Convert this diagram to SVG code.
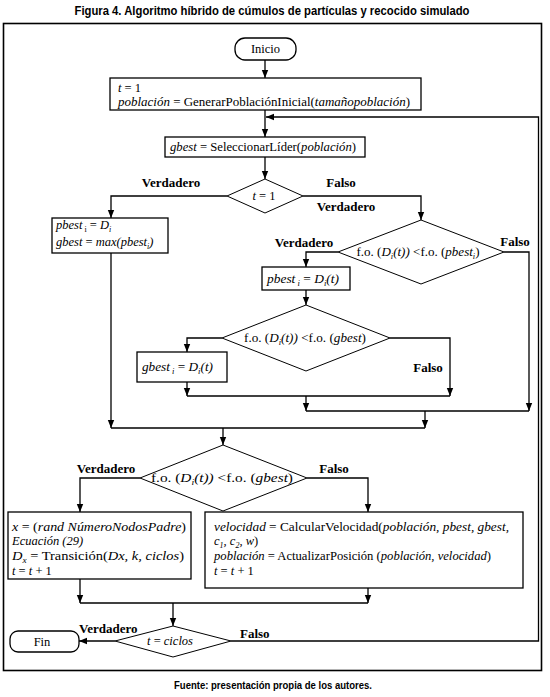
<svg xmlns="http://www.w3.org/2000/svg" width="550" height="697" viewBox="0 0 550 697">
<style>
.bg{fill:#fff}
.frame{fill:none;stroke:#000;stroke-width:1.6}
.box{fill:#fff;stroke:#000;stroke-width:1.3}
.dia{fill:#fff;stroke:#000;stroke-width:1}
.c{fill:none;stroke:#000;stroke-width:1.3}
.t{font-size:12.5px;fill:#000}
.i{font-style:italic}
.s{font-size:8px}
.lab{font-size:13px;font-weight:bold;fill:#000}
.cap{font-weight:bold;fill:#000}
</style>
<defs>
<marker id="ah" viewBox="0 0 10 10" refX="10" refY="5" markerWidth="8" markerHeight="8" markerUnits="userSpaceOnUse" orient="auto">
<path d="M0,1 L10,5 L0,9 z" fill="#000"/>
</marker>
</defs>
<rect class="bg" x="0" y="0" width="550" height="697"/>
<text class="cap" font-family="'Liberation Sans Narrow', 'Liberation Sans', sans-serif" x="272" y="15" font-size="12.5" text-anchor="middle" textLength="395" lengthAdjust="spacingAndGlyphs">Figura 4. Algoritmo híbrido de cúmulos de partículas y recocido simulado</text>
<rect class="frame" x="3.5" y="23.5" width="538" height="647"/>

<g font-family="'Liberation Serif', 'Times New Roman', 'DejaVu Serif', serif">
<g id="connectors">
<path class="c" d="M265,60 V78" marker-end="url(#ah)"/>
<path class="c" d="M265,110 V137" marker-end="url(#ah)"/>
<path class="c" d="M231,641 H538.5 V117 H266" marker-end="url(#ah)"/>
<path class="c" d="M265,157 V179" marker-end="url(#ah)"/>
<path class="c" d="M227,196 H111 V218" marker-end="url(#ah)"/>
<path class="c" d="M303,196 H421 V220" marker-end="url(#ah)"/>
<path class="c" d="M338,252 H306 V267" marker-end="url(#ah)"/>
<path class="c" d="M504,252 H529 V411" marker-end="url(#ah)"/>
<path class="c" d="M306,290 V305" marker-end="url(#ah)"/>
<path class="c" d="M222,338 H187 V352" marker-end="url(#ah)"/>
<path class="c" d="M390,338 H450 V396" marker-end="url(#ah)"/>
<path class="c" d="M187,382 V396" marker-end="url(#ah)"/>
<path class="c" d="M187,396 H450"/>
<path class="c" d="M306,396 V411" marker-end="url(#ah)"/>
<path class="c" d="M306,411 H529"/>
<path class="c" d="M425,411 V428" marker-end="url(#ah)"/>
<path class="c" d="M111,253 V428" marker-end="url(#ah)"/>
<path class="c" d="M111,428 H425"/>
<path class="c" d="M223,428 V445" marker-end="url(#ah)"/>
<path class="c" d="M140,478 H80 V512" marker-end="url(#ah)"/>
<path class="c" d="M307,478 H368 V512" marker-end="url(#ah)"/>
<path class="c" d="M80,579 V603" marker-end="url(#ah)"/>
<path class="c" d="M368,588 V603" marker-end="url(#ah)"/>
<path class="c" d="M80,603 H368"/>
<path class="c" d="M173,603 V626" marker-end="url(#ah)"/>
<path class="c" d="M115,641 H79" marker-end="url(#ah)"/>
<text class="lab" x="171" y="187" text-anchor="middle">Verdadero</text>
<text class="lab" x="341" y="187" text-anchor="middle">Falso</text>
<text class="lab" x="346" y="211" text-anchor="middle">Verdadero</text>
<text class="lab" x="304" y="247" text-anchor="middle">Verdadero</text>
<text class="lab" x="515" y="246" text-anchor="middle">Falso</text>
<text class="lab" x="428" y="372" text-anchor="middle">Falso</text>
<text class="lab" x="106" y="473" text-anchor="middle">Verdadero</text>
<text class="lab" x="334" y="473" text-anchor="middle">Falso</text>
<text class="lab" x="79" y="633">Verdadero</text>
<text class="lab" x="240" y="638">Falso</text>
</g>

<g id="inicio">
<rect class="box" x="235" y="38" width="61" height="22" rx="10"/>
<text class="t" x="265.5" y="53" text-anchor="middle" font-size="13">Inicio</text>
</g>

<g id="init">
<rect class="box" x="110" y="78" width="311" height="32"/>
<text class="t" x="118" y="92"><tspan class="i">t</tspan> = 1</text>
<text class="t" x="118" y="106" textLength="292" lengthAdjust="spacingAndGlyphs"><tspan class="i">población</tspan> = GenerarPoblaciónInicial(<tspan class="i">tamañopoblación</tspan>)</text>
</g>

<g id="lider">
<rect class="box" x="165" y="137" width="200" height="20"/>
<text class="t" x="170" y="151" textLength="186" lengthAdjust="spacingAndGlyphs"><tspan class="i">gbest</tspan> = SeleccionarLíder(<tspan class="i">población</tspan>)</text>
</g>

<g id="d1">
<polygon class="dia" points="265,179 303,196 265,213 227,196"/>
<text class="t" x="264" y="200" text-anchor="middle"><tspan class="i">t</tspan> = 1</text>
</g>

<g id="b3">
<rect class="box" x="52" y="218" width="116" height="35"/>
<text class="t" x="56" y="229"><tspan class="i">pbest</tspan><tspan class="s" dy="2.5"> i</tspan><tspan dy="-2.5"> = </tspan><tspan class="i">D</tspan><tspan class="s i" dy="2.5">i</tspan></text>
<text class="t" x="56" y="246"><tspan class="i">gbest</tspan> = <tspan class="i">max(pbest</tspan><tspan class="s i" dy="2.5">i</tspan><tspan class="i" dy="-2.5">)</tspan></text>
</g>

<g id="d2">
<polygon class="dia" points="421,220 504,252 421,284 338,252"/>
<text class="t" x="418" y="256" text-anchor="middle" textLength="123" lengthAdjust="spacingAndGlyphs">f.o. (<tspan class="i">D</tspan><tspan class="s i" dy="2.5">i</tspan><tspan class="i" dy="-2.5">(t))</tspan> &lt;f.o. (<tspan class="i">pbest</tspan><tspan class="s i" dy="2.5">i</tspan><tspan dy="-2.5">)</tspan></text>
</g>

<g id="pbest">
<rect class="box" x="262" y="267" width="88" height="23"/>
<text class="t" x="267" y="283" textLength="72" lengthAdjust="spacingAndGlyphs"><tspan class="i">pbest</tspan><tspan class="s i" dy="2.5"> i</tspan><tspan dy="-2.5"> = </tspan><tspan class="i">D</tspan><tspan class="s i" dy="2.5">i</tspan><tspan class="i" dy="-2.5">(t)</tspan></text>
</g>

<g id="d3">
<polygon class="dia" points="306,305 390,338 306,371 222,338"/>
<text class="t" x="305" y="342" text-anchor="middle" textLength="122" lengthAdjust="spacingAndGlyphs">f.o. (<tspan class="i">D</tspan><tspan class="s i" dy="2.5">i</tspan><tspan class="i" dy="-2.5">(t))</tspan> &lt;f.o. (<tspan class="i">gbest</tspan>)</text>
</g>

<g id="gbest">
<rect class="box" x="137" y="352" width="90" height="30"/>
<text class="t" x="142" y="371" textLength="71" lengthAdjust="spacingAndGlyphs"><tspan class="i">gbest</tspan><tspan class="s i" dy="2.5"> i</tspan><tspan dy="-2.5"> = </tspan><tspan class="i">D</tspan><tspan class="s i" dy="2.5">i</tspan><tspan class="i" dy="-2.5">(t)</tspan></text>
</g>

<g id="d4">
<polygon class="dia" points="223,445 307,478 223,511 140,478"/>
<text class="t" x="222" y="482" text-anchor="middle" font-size="13.5" textLength="142" lengthAdjust="spacingAndGlyphs">f.o. (<tspan class="i">D</tspan><tspan class="s i" dy="2.5">i</tspan><tspan class="i" dy="-2.5">(t))</tspan> &lt;f.o. (<tspan class="i">gbest</tspan>)</text>
</g>

<g id="b4">
<rect class="box" x="8" y="512" width="183" height="67"/>
<text class="t" x="12" y="531" textLength="174" lengthAdjust="spacingAndGlyphs"><tspan class="i">x</tspan> = (<tspan class="i">rand NúmeroNodosPadre</tspan>)</text>
<text class="t i" x="12" y="545">Ecuación (29)</text>
<text class="t" x="12" y="560" textLength="172" lengthAdjust="spacingAndGlyphs"><tspan class="i">D</tspan><tspan class="s i" dy="2.5">x</tspan><tspan dy="-2.5"> = Transición(</tspan><tspan class="i">Dx, k, ciclos</tspan>)</text>
<text class="t" x="12" y="575"><tspan class="i">t</tspan> = <tspan class="i">t</tspan> + 1</text>
</g>

<g id="b5">
<rect class="box" x="205" y="512" width="318" height="76"/>
<text class="t" x="214" y="531" textLength="295" lengthAdjust="spacingAndGlyphs"><tspan class="i">velocidad</tspan>  =  CalcularVelocidad(<tspan class="i">población,  pbest,  gbest,</tspan></text>
<text class="t" x="214" y="545"><tspan class="i">c</tspan><tspan class="s i" dy="2.5">1</tspan><tspan class="i" dy="-2.5">, c</tspan><tspan class="s i" dy="2.5">2</tspan><tspan class="i" dy="-2.5">, w</tspan>)</text>
<text class="t" x="214" y="560" textLength="277" lengthAdjust="spacingAndGlyphs"><tspan class="i">población</tspan> = ActualizarPosición (<tspan class="i">población, velocidad</tspan>)</text>
<text class="t" x="214" y="575"><tspan class="i">t</tspan> = <tspan class="i">t</tspan> + 1</text>
</g>

<g id="d5">
<polygon class="dia" points="173,626 231,641 173,657 115,641"/>
<text class="t" x="170" y="645" text-anchor="middle"><tspan class="i">t</tspan> = <tspan class="i">ciclos</tspan></text>
</g>

<g id="fin">
<rect class="box" x="10" y="631" width="69" height="21" rx="8"/>
<text class="t" x="42" y="646" text-anchor="middle" font-size="13">Fin</text>
</g>
</g>

<text class="cap" font-family="'Liberation Sans Narrow', 'Liberation Sans', sans-serif" x="273" y="689" font-size="10.5" text-anchor="middle" textLength="198" lengthAdjust="spacingAndGlyphs">Fuente: presentación propia de los autores.</text>
</svg>
